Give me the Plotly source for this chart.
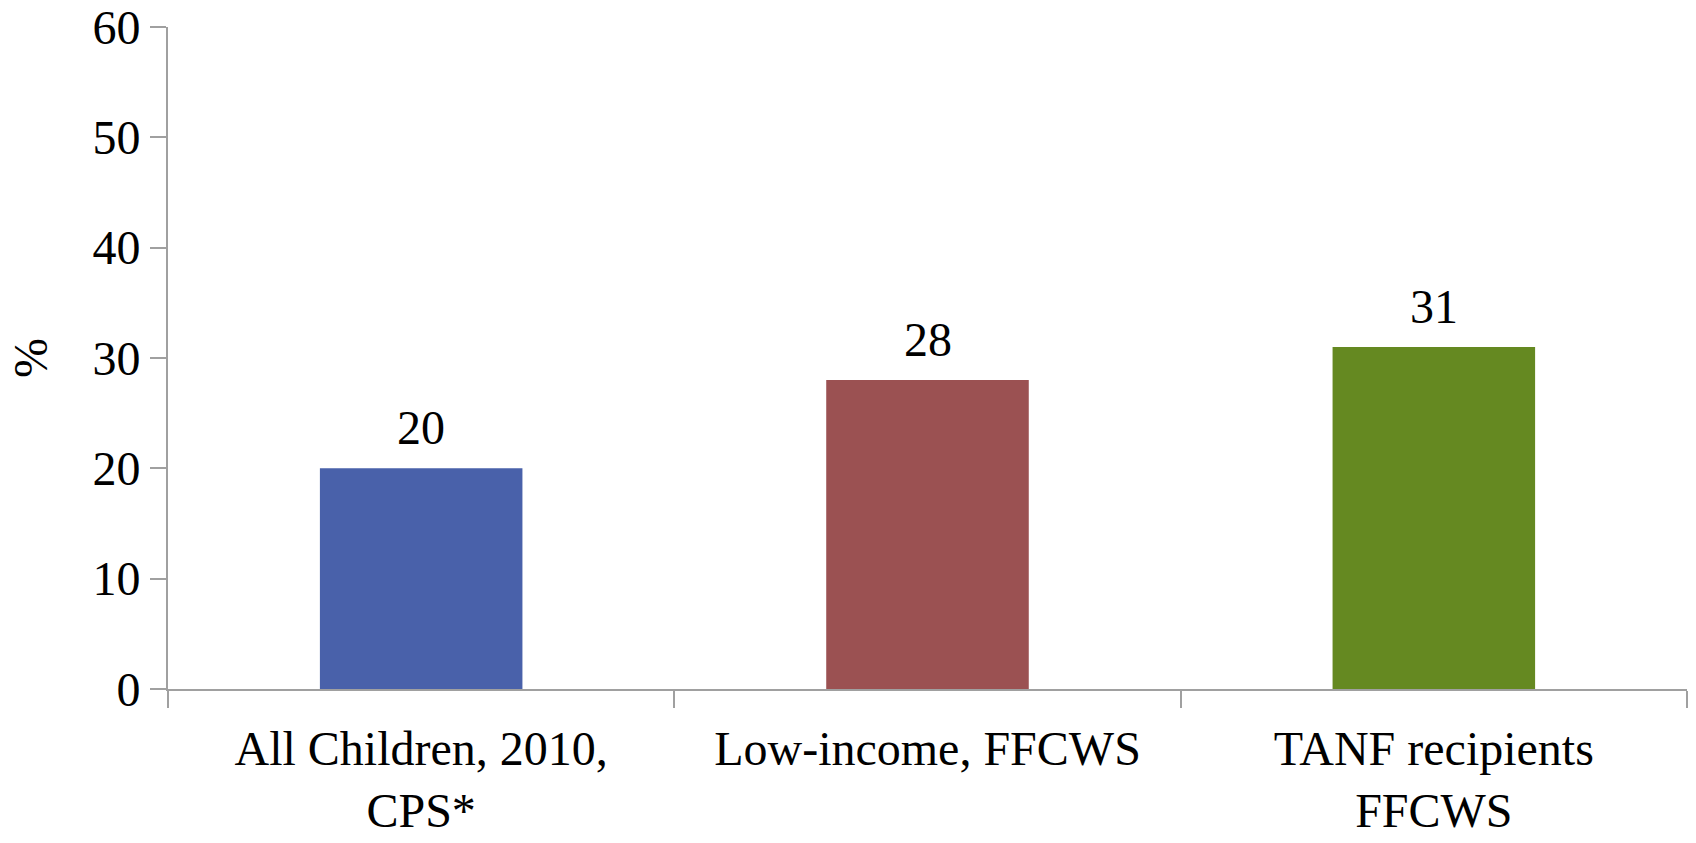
import plotly.graph_objects as go

categories = ["All Children, 2010,<br>CPS*", "Low-income, FFCWS", "TANF recipients<br>FFCWS"]
values = [20, 28, 31]
bar_colors = ["#4961AA", "#9B5152", "#658921"]
y_ticks = [0, 10, 20, 30, 40, 50, 60]

FONT = "Liberation Serif"
FS = 48
AXIS = "#A0A0A0"

fig = go.Figure()
fig.add_trace(go.Bar(
    x=categories, y=values,
    marker=dict(color=bar_colors, line=dict(width=0)),
    width=0.4,
    showlegend=False,
))
for c, v in zip(categories, values):
    fig.add_annotation(x=c, y=v, text=str(v), showarrow=False,
                       yanchor="bottom", yshift=12,
                       font=dict(family=FONT, size=FS, color="black"))

fig.update_layout(
    width=1696, height=843,
    margin=dict(l=168, r=9, t=27, b=154),
    paper_bgcolor="white", plot_bgcolor="white",
    font=dict(family=FONT, size=FS, color="black"),
)
fig.update_xaxes(
    type="category", tickson="boundaries", ticks="outside", ticklen=17,
    tickwidth=2, tickcolor=AXIS, showline=True, linecolor=AXIS, linewidth=2,
    showgrid=False, tickfont=dict(family=FONT, size=FS, color="black"),
    range=[-0.5, 2.5], automargin=False, ticklabelstandoff=16,
)
fig.update_yaxes(
    range=[0, 60], tickvals=y_ticks, ticks="outside", ticklen=16,
    tickwidth=2, tickcolor=AXIS, showline=True, linecolor=AXIS, linewidth=2,
    showgrid=False, zeroline=False, automargin=False,
    tickfont=dict(family=FONT, size=FS, color="black"),
    title=dict(text="%", font=dict(family=FONT, size=FS, color="black"), standoff=30),
)

fig.write_html("out.html")
